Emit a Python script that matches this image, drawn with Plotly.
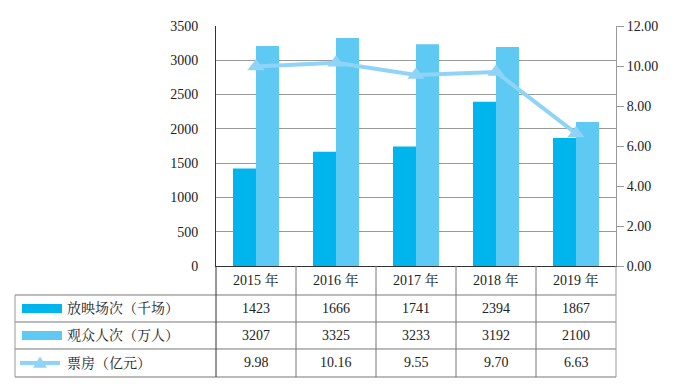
import plotly.graph_objects as go

years = ["2015 年", "2016 年", "2017 年", "2018 年", "2019 年"]
screenings = [1423, 1666, 1741, 2394, 1867]      # 放映场次（千场）
audience = [3207, 3325, 3233, 3192, 2100]        # 观众人次（万人）
boxoffice = [9.98, 10.16, 9.55, 9.70, 6.63]      # 票房（亿元）
series_names = ["放映场次（千场）", "观众人次（万人）", "票房（亿元）"]
left_ticks = [0, 500, 1000, 1500, 2000, 2500, 3000, 3500]
right_ticks = [0, 2, 4, 6, 8, 10, 12]
box_labels = ["9.98", "10.16", "9.55", "9.70", "6.63"]

C_DARK = "#00b4ec"
C_LIGHT = "#5ecaf3"
C_LINE = "#8fd4f6"
FONT = "Liberation Serif, Noto Serif CJK SC, Noto Sans CJK SC, serif"

fig = go.Figure()
fig.add_bar(x=years, y=screenings, name=series_names[0], marker_color=C_DARK, marker_line_width=0)
fig.add_bar(x=years, y=audience, name=series_names[1], marker_color=C_LIGHT, marker_line_width=0)
fig.add_scatter(x=years, y=boxoffice, name=series_names[2], yaxis="y2", mode="lines+markers",
                line=dict(color=C_LINE, width=4),
                marker=dict(symbol="triangle-up", size=15, color=C_LINE))

# table geometry (paper coords)
row_edges = [0, -0.1208, -0.2333, -0.3458, -0.4625]
row_centers = [(row_edges[i] + row_edges[i + 1]) / 2 for i in range(4)]
left_x = -0.5025

shapes = []
for yy in row_edges[1:]:
    shapes.append(dict(type="line", xref="paper", yref="paper", x0=left_x, x1=1, y0=yy, y1=yy,
                       line=dict(color="#777777", width=1)))
for k in range(len(years) - 1):
    shapes.append(dict(type="line", xref="x", yref="paper", x0=k + 0.5, x1=k + 0.5,
                       y0=0, y1=row_edges[-1], line=dict(color="#777777", width=1)))
shapes.append(dict(type="line", xref="paper", yref="paper", x0=1, x1=1, y0=0, y1=row_edges[-1],
                   line=dict(color="#999999", width=1)))
shapes.append(dict(type="line", xref="paper", yref="paper", x0=0, x1=0, y0=0, y1=row_edges[-1],
                   line=dict(color="#333333", width=1)))
shapes.append(dict(type="line", xref="paper", yref="paper", x0=left_x, x1=left_x,
                   y0=row_edges[1], y1=row_edges[-1], line=dict(color="#999999", width=1)))
# legend swatches
sw_x0, sw_x1 = -0.485, -0.385
for i, col in enumerate([C_DARK, C_LIGHT]):
    yc = row_centers[i + 1]
    shapes.append(dict(type="rect", xref="paper", yref="paper", x0=sw_x0, x1=sw_x1,
                       y0=yc - 0.019, y1=yc + 0.019, fillcolor=col, line_width=0))
yc = row_centers[3]
shapes.append(dict(type="line", xref="paper", yref="paper", x0=-0.49, x1=-0.39,
                   y0=yc, y1=yc, line=dict(color=C_LINE, width=4)))
tx = -0.44
shapes.append(dict(type="path", xref="paper", yref="paper",
                   path=f"M {tx-0.0175} {yc-0.02} L {tx+0.0175} {yc-0.02} L {tx} {yc+0.027} Z",
                   fillcolor=C_LINE, line_width=0))

annotations = []
def cell(x, xref, y, text, xanchor="center"):
    annotations.append(dict(x=x, xref=xref, y=y, yref="paper", text=text, xanchor=xanchor,
                            yanchor="middle", showarrow=False,
                            font=dict(size=14, color="#222", family=FONT)))

for i, yr in enumerate(years):
    cell(yr, "x", row_centers[0], yr)
    cell(yr, "x", row_centers[1], str(screenings[i]))
    cell(yr, "x", row_centers[2], str(audience[i]))
    cell(yr, "x", row_centers[3], box_labels[i])
for i, nm in enumerate(series_names):
    cell(-0.3775, "paper", row_centers[i + 1], nm, xanchor="left")

fig.update_layout(
    width=690, height=388,
    margin=dict(l=208, r=82, t=18, b=130),
    paper_bgcolor="white", plot_bgcolor="white",
    showlegend=False,
    barmode="group", bargap=0.425, bargroupgap=0,
    font=dict(family=FONT, size=14, color="#222"),
    xaxis=dict(type="category", showticklabels=False, showline=True, linecolor="#333",
               linewidth=1, showgrid=False, ticks="", range=[-0.5, 4.5]),
    yaxis=dict(range=[0, 3500], tickvals=left_ticks, showline=True, linecolor="#333",
               linewidth=1, gridcolor="#999999", gridwidth=1, ticks="", ticklabelstandoff=14,
               zeroline=False, tickfont=dict(size=14, family=FONT)),
    yaxis2=dict(range=[0, 12], tickvals=right_ticks, ticktext=["%.2f" % v for v in right_ticks],
                overlaying="y", side="right", showline=True, linecolor="#999999", linewidth=1,
                showgrid=False, ticks="outside", ticklen=7, tickcolor="#999999", zeroline=False,
                tickfont=dict(size=14, family=FONT)),
    shapes=shapes, annotations=annotations,
)

fig.write_html("out.html")
